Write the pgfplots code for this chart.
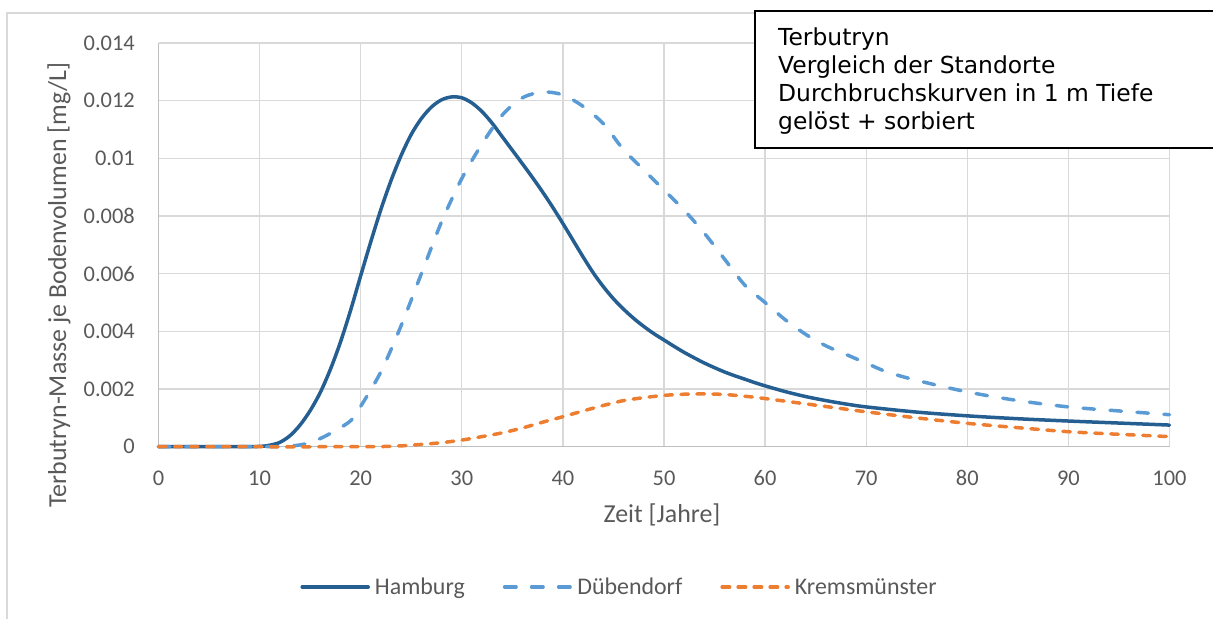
\documentclass[border=0pt]{standalone}
\usepackage{pgfplots}
\pgfplotsset{compat=1.18}
\usepackage{fontspec}
\setmainfont{Carlito}
\newfontfamily\boxfont{DejaVu Sans}
\definecolor{hamburg}{HTML}{255E91}
\definecolor{duebendorf}{HTML}{5B9BD5}
\definecolor{krems}{HTML}{ED7D31}
\definecolor{gridgray}{HTML}{D9D9D9}
\definecolor{axisgray}{HTML}{BFBFBF}
\definecolor{labelgray}{HTML}{595959}

% Terbutryn mass per soil volume [mg/L] at 1 m depth
\pgfplotstableread{
t      v
0      0
8      0
10     0.00001
11     0.00005
12     0.00015
13     0.00038
14     0.00075
15     0.00125
16     0.00188
17     0.00268
18     0.00363
19     0.00473
20     0.00593
21     0.00711
22     0.00823
23     0.00923
24     0.0101
25     0.01083
26     0.01138
27     0.01178
28     0.01203
29     0.01213
30     0.0121
31     0.01192
32     0.01162
33     0.01122
34     0.01075
35     0.01028
36     0.00981
37     0.00933
38     0.00883
39     0.0083
40     0.00774
41     0.00716
42     0.00658
43     0.00603
44     0.00555
45     0.00513
46     0.00477
47     0.00445
48     0.00417
49     0.00392
50     0.0037
51     0.00348
52     0.00327
53     0.00308
54     0.0029
55     0.00274
56     0.00259
57     0.00246
58     0.00234
59     0.00222
60     0.00211
62     0.00191
64     0.00174
66     0.0016
68     0.00148
70     0.00138
75     0.0012
80     0.00107
85     0.00097
90     0.00089
95     0.00082
100    0.00075
}\hamburgdata

\pgfplotstableread{
t      v
0      0
10     0
13     0.00002
15     0.00014
17     0.00046
19     0.0009
20     0.0014
22     0.0026
24     0.0042
26     0.0060
28     0.0078
30     0.0093
32     0.0105
34     0.0115
36     0.0121
38     0.0123
40     0.0122
42     0.0118
44     0.0112
46     0.0103
48     0.0096
50     0.0089
52     0.0082
54     0.0074
56     0.0065
58     0.0056
60     0.0050
62     0.0044
64     0.0039
66     0.0035
68     0.0032
70     0.0029
72     0.0026
75     0.0023
80     0.0019
85     0.0016
90     0.00138
95     0.00124
100    0.00111
}\duebendorfdata

\pgfplotstableread{
t      v
0      0
20     0
24     0.00003
26     0.00008
28     0.00014
30     0.00023
32     0.00035
34     0.00048
36     0.00065
38     0.00085
40     0.00104
42     0.00124
44     0.00143
46     0.0016
48     0.0017
50     0.00178
52     0.00182
54     0.00183
56     0.00181
58     0.00175
60     0.00167
65     0.00144
70     0.00121
75     0.001
80     0.00081
85     0.00066
90     0.00052
95     0.00043
100    0.00035
}\kremsdata

\begin{document}
\begin{tikzpicture}
\useasboundingbox (0bp,0bp) rectangle (1213bp,619bp);
% chart area frame
\draw[gridgray, line width=1.3bp] (7bp,-10bp) -- (7bp,606bp) -- (1230bp,606bp);

\begin{axis}[
  at={(158.5bp,172.3bp)}, anchor=south west,
  width=1011bp, height=403.7bp, scale only axis,
  xmin=0, xmax=100, ymin=0, ymax=0.014,
  clip=false,
  axis x line*=bottom, axis y line*=left,
  axis line style={-, axisgray, line width=1.3bp},
  grid=major,
  major grid style={gridgray, line width=1.3bp},
  major tick length=0pt,
  xtick={0,10,20,30,40,50,60,70,80,90,100},
  xticklabels={0,10,20,30,40,50,60,70,80,90,100},
  ytick={0,0.002,0.004,0.006,0.008,0.010,0.012,0.014},
  yticklabels={0,0.002,0.004,0.006,0.008,0.01,0.012,0.014},
  scaled y ticks=false, scaled x ticks=false,
  xticklabel style={font=\fontsize{22.5}{27}\selectfont, text=labelgray,
    anchor=base, inner sep=0pt, yshift=-39bp},
  yticklabel style={font=\fontsize{22.5}{27}\selectfont, text=labelgray,
    anchor=east, inner sep=0pt, xshift=-23.5bp},
  xlabel={Zeit [Jahre]},
  ylabel={Terbutryn-Masse je Bodenvolumen [mg/L]},
  xlabel style={font=\fontsize{26}{30}\selectfont, text=labelgray,
    at={(axis description cs:0.498,-0.189)}, anchor=base, inner sep=0pt},
  ylabel style={font=\fontsize{26}{30}\selectfont, text=labelgray,
    at={(axis description cs:-0.0984,0.400)}, anchor=center, inner sep=0pt},
  legend columns=3,
  legend style={at={(axis description cs:0.4575,-0.3475)}, anchor=center,
    draw=none, fill=none, font=\fontsize{24}{28}\selectfont, text=labelgray,
    /tikz/every even column/.append style={column sep=33bp},
    nodes={inner xsep=5bp}},
  legend image code/.code={\draw[#1] (0bp,0bp) -- (66bp,0bp);},
  every axis plot/.append style={line width=3.5bp, line cap=round, line join=round},
]
\addplot[hamburg, smooth] table[x=t, y=v] {\hamburgdata};
\addlegendentry{Hamburg}
\addplot[duebendorf, smooth, dash pattern=on 11.5bp off 15.5bp] table[x=t, y=v] {\duebendorfdata};
\addlegendentry{Dübendorf}
\addplot[krems, smooth, dash pattern=on 7.5bp off 8.5bp] table[x=t, y=v] {\kremsdata};
\addlegendentry{Kremsmünster}
\end{axis}

% annotation box
\draw[black, line width=1.3bp, fill=white] (755bp,471bp) rectangle (1240bp,608bp);
\begin{scope}[every node/.style={anchor=base west, inner sep=0pt,
    font=\boxfont\fontsize{23.5}{28}\selectfont}]
\node at (778bp,573bp) {Terbutryn};
\node at (778bp,545bp) {Vergleich der Standorte};
\node at (778bp,517bp) {Durchbruchskurven in 1 m Tiefe};
\node at (778bp,489bp) {gelöst + sorbiert};
\end{scope}
\end{tikzpicture}
\end{document}
